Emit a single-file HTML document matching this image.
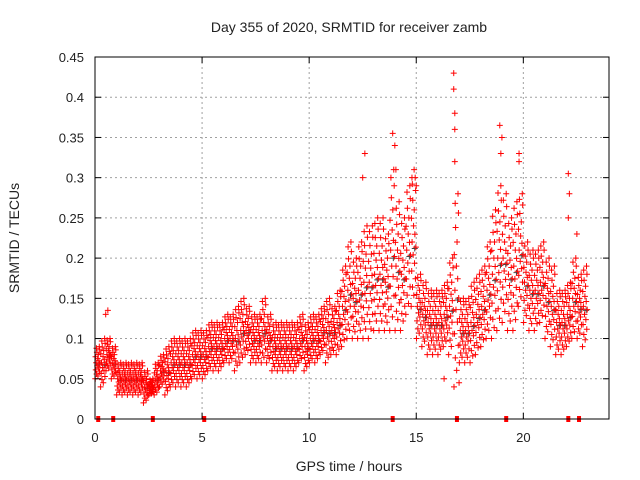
<!DOCTYPE html>
<html><head><meta charset="utf-8"><style>
body{margin:0;background:#fff;}
svg{display:block;font-family:"Liberation Sans",sans-serif;}
</style></head><body>
<svg id="chart" width="640" height="480" viewBox="0 0 640 480" xmlns="http://www.w3.org/2000/svg">
<rect width="640" height="480" fill="#fff"/>
<text x="349" y="32" font-size="14" text-anchor="middle" fill="#222">Day 355 of 2020, SRMTID for receiver zamb</text>
<text x="349" y="471" font-size="14" text-anchor="middle" fill="#222">GPS time / hours</text>
<text transform="translate(19,238) rotate(-90)" font-size="14" text-anchor="middle" fill="#222">SRMTID / TECUs</text>
<g id="grid"></g><g id="pts"></g><g id="axes"></g>
</svg>
<script>
// data: 0.25 h bins, center and spread (TECU*100)
const binHours = 0.25;
const centers = [7,7,8,7, 5,5,5,5, 5,4,4,5, 6,6,7,7, 7,7,8,8, 8,9,9,9, 10,10,10,11, 11,10,10,11, 10,9,9,9, 9,9,10,9, 10,10,11,11, 11,12,14,16, 15,16,17,17, 18,18,17,21, 19,18,21,22, 14,13,12,12, 12,13,14,16, 11,11,12,13, 14,16,18,20, 20,18,19,21, 17,16,16,17, 15,14,12,12, 13,15,14,14];
const spreads = [2,3,2,2, 2,2,2,2, 2,2,1,2, 2,3,3,3, 3,3,3,3, 3,3,3,3, 3,3,4,4, 3,3,3,4, 3,3,3,3, 3,3,3,3, 3,3,3,4, 3,4,5,6, 5,6,7,7, 7,7,6,10, 8,7,8,8, 4,4,4,4, 4,4,6,12, 4,4,5,5, 5,6,8,9, 8,7,8,7, 5,5,5,5, 5,5,4,4, 4,5,4,5];
const outlierHours = [0.5,0.6,12.5,12.6,13.9,14.0,14.05,14.8,14.9,15.0,16.75,16.75,16.8,16.8,16.8,18.9,19.0,18.95,19.8,19.8,22.1,22.15,22.1,22.5,16.3,17.0];
const outlierValues = [0.13,0.135,0.3,0.33,0.355,0.34,0.31,0.3,0.31,0.29,0.43,0.41,0.38,0.36,0.32,0.365,0.35,0.33,0.33,0.32,0.305,0.28,0.25,0.23,0.05,0.045];
const markerHours = [0.15,0.85,2.7,5.1,13.9,16.9,19.2,22.1,22.6];
const xTicks = [0,5,10,15,20];
const yTicks = [0,0.05,0.1,0.15,0.2,0.25,0.3,0.35,0.4,0.45];
const yTickLabels = ["0","0.05","0.1","0.15","0.2","0.25","0.3","0.35","0.4","0.45"];

const L=95,R=609,T=57,B=419,NS="http://www.w3.org/2000/svg";
const X=h=>L+(h/24)*(R-L), Y=v=>B-(v/0.45)*(B-T);
function mk(tag,attrs,parent){const e=document.createElementNS(NS,tag);for(const k in attrs)e.setAttribute(k,attrs[k]);parent.appendChild(e);return e;}
const grid=document.getElementById('grid'),axes=document.getElementById('axes'),pts=document.getElementById('pts');
xTicks.forEach(t=>{
  if(t>0){const g=mk('line',{x1:X(t),x2:X(t),y1:T,y2:B,stroke:'#a0a0a0','stroke-dasharray':'2,3'},grid);
  
  }
  mk('line',{x1:X(t),x2:X(t),y1:B,y2:B-6,stroke:'#000'},axes);
  mk('line',{x1:X(t),x2:X(t),y1:T,y2:T+6,stroke:'#000'},axes);
  const tx=mk('text',{x:X(t),y:B+23,'font-size':13,'text-anchor':'middle',fill:'#222'},axes);tx.textContent=t;
  
  
});
yTicks.forEach((t,i)=>{
  if(t>0&&t<0.45){const g=mk('line',{x1:L,x2:R,y1:Y(t),y2:Y(t),stroke:'#a0a0a0','stroke-dasharray':'2,3'},grid);
  
  }
  mk('line',{x1:L,x2:L+6,y1:Y(t),y2:Y(t),stroke:'#000'},axes);
  mk('line',{x1:R,x2:R-6,y1:Y(t),y2:Y(t),stroke:'#000'},axes);
  const tx=mk('text',{x:L-11,y:Y(t)+5,'font-size':13,'text-anchor':'end',fill:'#222'},axes);tx.textContent=yTickLabels[i];
  
  
});
const frame=mk('rect',{x:L,y:T,width:R-L,height:B-T,fill:'none',stroke:'#000'},axes);


const ks=[-1,-0.83,-0.7,-0.57,-0.45,-0.33,-0.2,-0.08,0,0.12,0.25,0.37,0.5,0.65,0.8,0.9,1,-0.1];
const xo=[0.05,0.55,0.3,0.85,0.15,0.68,0.42,0.93,0.22,0.74,0.5,0.1,0.62,0.35,0.88,0.27,0.8,0.72];
let d1='',d2='';
const cross=(x,y)=>`M${x-3} ${y}h6M${x} ${y-3}v6`;
centers.forEach((c,i)=>{
  ks.forEach((k,j)=>{
    const v=Math.max(0.02,(c+spreads[i]*k)/100);
    const s=cross(X((i+xo[j])*binHours),Y(v));
    if(j===ks.length-1) d2+=s; else d1+=s;
  });
});
outlierHours.forEach((h,i)=>{d1+=cross(X(h),Y(outlierValues[i]));});
const p2=mk('path',{d:d2,stroke:'#444','stroke-width':1,fill:'none'},pts);


const p1=mk('path',{d:d1,stroke:'#f00','stroke-width':1,fill:'none'},pts);


markerHours.forEach(h=>{
  const m=mk('rect',{x:X(h)-2,y:B-3,width:4,height:6,fill:'#f00'},pts);
  
  
});
</script>
</body></html>
